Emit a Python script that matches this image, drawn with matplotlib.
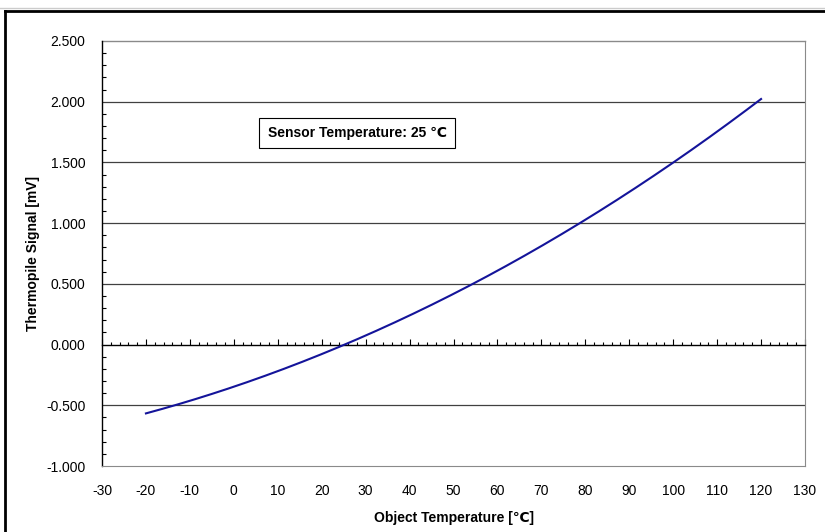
import numpy as np
import matplotlib
matplotlib.use('Agg')
import matplotlib.pyplot as plt
from matplotlib.lines import Line2D
from matplotlib.ticker import MultipleLocator, FormatStrFormatter

plt.rcParams['font.family'] = ['Liberation Sans', 'DejaVu Sans']
plt.rcParams['axes.unicode_minus'] = False

# object temperature [C] and thermopile signal [mV]
obj_temp = [-20, -10, 0, 10, 20, 30, 40, 50, 60, 70, 80, 90, 100, 110, 120]
signal_mv = [-0.567, -0.463, -0.347, -0.219, -0.078, 0.075, 0.240, 0.418,
             0.608, 0.811, 1.026, 1.253, 1.505, 1.755, 2.020]

x_lim = (-30, 130)
y_lim = (-1.0, 2.5)
note_text = 'Sensor Temperature: 25 \u2103'

fig = plt.figure(figsize=(8.25, 5.32), dpi=100)
ax = fig.add_axes([102/825, 1-466/532, 703/825, 425/532])

# smooth curve through the read points
xs = np.linspace(obj_temp[0], obj_temp[-1], 300)
coef = np.polyfit(obj_temp, signal_mv, 3)
ys = np.polyval(coef, xs)
ax.plot(xs, ys, color='#14149a', lw=1.5, zorder=3)

ax.set_xlim(*x_lim)
ax.set_ylim(*y_lim)

# horizontal gridlines at major y ticks
for v in np.arange(-0.5, 2.01, 0.5):
    if abs(v) < 1e-9:
        continue
    ax.axhline(v, color='#404040', lw=0.9, zorder=1)

# x axis sits at y = 0 (use top spine there), labels stay at the bottom
ax.spines['top'].set_position(('data', 0))
ax.spines['top'].set_color('black')
ax.spines['top'].set_linewidth(1.0)
ax.spines['left'].set_color('black')
ax.spines['left'].set_linewidth(1.0)
ax.spines['bottom'].set_color('#8a8a8a')
ax.spines['right'].set_color('#8a8a8a')
ax.plot([0, 1], [1, 1], transform=ax.transAxes, color='#8a8a8a', lw=1.0,
        clip_on=False, zorder=1)

ax.xaxis.set_major_locator(MultipleLocator(10))
ax.xaxis.set_minor_locator(MultipleLocator(2))
ax.yaxis.set_major_locator(MultipleLocator(0.5))
ax.yaxis.set_minor_locator(MultipleLocator(0.1))
ax.yaxis.set_major_formatter(FormatStrFormatter('%.3f'))

ax.tick_params(axis='x', which='both', top=True, bottom=False,
               labeltop=False, labelbottom=True, direction='out',
               color='black', width=0.8)
ax.tick_params(axis='x', which='major', length=4, pad=9, labelsize=10)
ax.tick_params(axis='x', which='minor', length=2.5)
ax.tick_params(axis='y', which='both', direction='in', color='black', width=0.8)
ax.tick_params(axis='y', which='major', length=0, pad=12, labelsize=10)
ax.tick_params(axis='y', which='minor', length=3)

ax.set_xlabel('Object Temperature [\u2103]', fontsize=10, fontweight='bold', labelpad=9)
ax.set_ylabel('Thermopile Signal [mV]', fontsize=10, fontweight='bold', labelpad=4)

ax.text(0.363, 0.7835, note_text, transform=ax.transAxes, ha='center', va='center',
        fontsize=10, fontweight='bold',
        bbox=dict(boxstyle='square,pad=0.6', fc='white', ec='black', lw=0.8))

# worksheet frame around the chart
fig.add_artist(Line2D([5/825, 1], [1-11/532, 1-11/532], color='black', lw=2.0))
fig.add_artist(Line2D([5/825, 5/825], [0, 1-11/532], color='black', lw=2.0))
fig.add_artist(Line2D([0, 1], [1-8/532, 1-8/532], color='#cccccc', lw=1.0))

fig.savefig('out.png', dpi=100)
